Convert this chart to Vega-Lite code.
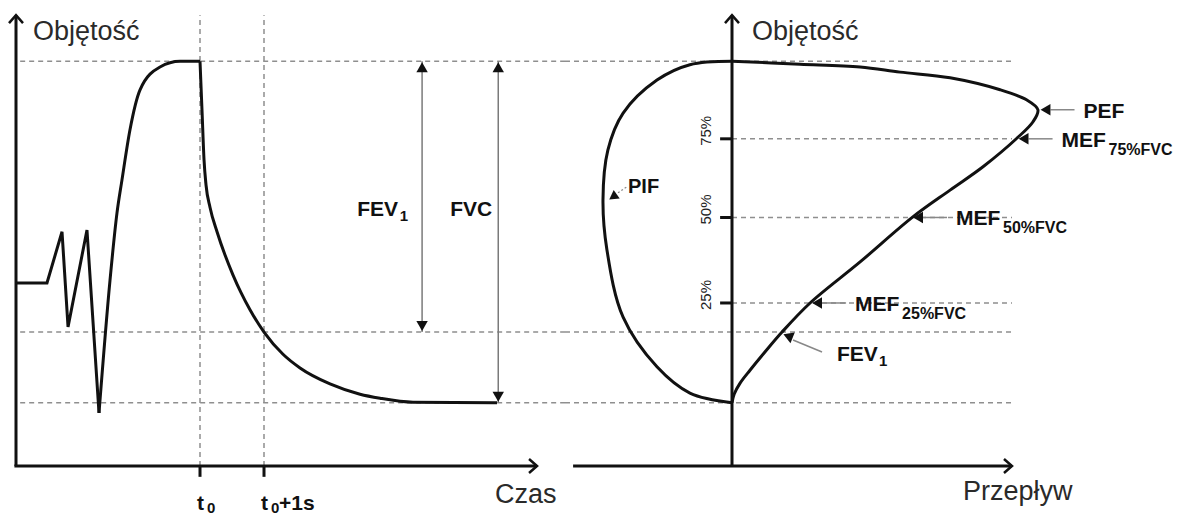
{
  "$schema": "https://vega.github.io/schema/vega-lite/v6.json",
  "padding": 0,
  "spacing": 0,
  "bounds": "flush",
  "background": "white",
  "config": {"view": {"stroke": null}, "axis": {"disable": true}, "text": {"font": "Liberation Sans"}},
  "datasets": {
    "levels": [{"level": "TLC", "V": 7.1}, {"level": "FEV1", "V": 2.35}, {"level": "RV", "V": 1.11}],
    "times": [{"t": 3.0, "main": "t", "sub": "0", "tail": ""}, {"t": 4.0, "main": "t", "sub": "0", "tail": "+1s"}],
    "spiro": [
      {"seg": "rest", "t": 0.125, "V": 3.21},
      {"seg": "rest", "t": 0.609, "V": 3.21},
      {"seg": "rest", "t": 0.844, "V": 4.11},
      {"seg": "rest", "t": 0.938, "V": 2.44},
      {"seg": "rest", "t": 1.234, "V": 4.14},
      {"seg": "rest", "t": 1.422, "V": 0.93},
      {"seg": "insp", "t": 1.422, "V": 0.93},
      {"seg": "insp", "t": 1.594, "V": 3.26},
      {"seg": "insp", "t": 1.703, "V": 4.44},
      {"seg": "insp", "t": 1.781, "V": 5.02},
      {"seg": "insp", "t": 1.906, "V": 5.9},
      {"seg": "insp", "t": 2.063, "V": 6.6},
      {"seg": "insp", "t": 2.375, "V": 7.0},
      {"seg": "insp", "t": 2.688, "V": 7.1},
      {"seg": "insp", "t": 3.0, "V": 7.1},
      {"seg": "exp", "t": 3.0, "V": 7.1},
      {"seg": "exp", "t": 3.031, "V": 6.25},
      {"seg": "exp", "t": 3.063, "V": 5.37},
      {"seg": "exp", "t": 3.094, "V": 4.93},
      {"seg": "exp", "t": 3.156, "V": 4.54},
      {"seg": "exp", "t": 3.266, "V": 4.11},
      {"seg": "exp", "t": 3.391, "V": 3.7},
      {"seg": "exp", "t": 3.516, "V": 3.35},
      {"seg": "exp", "t": 3.641, "V": 3.04},
      {"seg": "exp", "t": 3.781, "V": 2.74},
      {"seg": "exp", "t": 4.0, "V": 2.35},
      {"seg": "exp", "t": 4.297, "V": 1.96},
      {"seg": "exp", "t": 4.563, "V": 1.72},
      {"seg": "exp", "t": 5.031, "V": 1.44},
      {"seg": "exp", "t": 5.5, "V": 1.26},
      {"seg": "exp", "t": 5.813, "V": 1.19},
      {"seg": "exp", "t": 6.328, "V": 1.12},
      {"seg": "exp", "t": 7.641, "V": 1.11}
    ],
    "volArrows": [{"name": "FEV", "sub": "1", "t": 6.47, "top": 7.1, "bottom": 2.35}, {"name": "FVC", "sub": "", "t": 7.66, "top": 7.1, "bottom": 1.11}],
    "pct": [{"pct": "75%", "V": 5.74}, {"pct": "50%", "V": 4.36}, {"pct": "25%", "V": 2.86}],
    "loop": [
      {"phase": "exp", "i": 0, "F": 0, "V": 7.1},
      {"phase": "exp", "i": 1, "F": 2.23, "V": 7.05},
      {"phase": "exp", "i": 2, "F": 4.2, "V": 7.0},
      {"phase": "exp", "i": 3, "F": 5.51, "V": 6.91},
      {"phase": "exp", "i": 4, "F": 7.15, "V": 6.81},
      {"phase": "exp", "i": 5, "F": 8.79, "V": 6.6},
      {"phase": "exp", "i": 6, "F": 9.67, "V": 6.42},
      {"phase": "exp", "i": 7, "F": 10.03, "V": 6.25},
      {"phase": "exp", "i": 8, "F": 9.87, "V": 6.04},
      {"phase": "exp", "i": 9, "F": 9.34, "V": 5.75},
      {"phase": "exp", "i": 10, "F": 8.23, "V": 5.25},
      {"phase": "exp", "i": 11, "F": 7.15, "V": 4.84},
      {"phase": "exp", "i": 12, "F": 5.93, "V": 4.37},
      {"phase": "exp", "i": 13, "F": 4.2, "V": 3.58},
      {"phase": "exp", "i": 14, "F": 2.56, "V": 2.86},
      {"phase": "exp", "i": 15, "F": 1.64, "V": 2.35},
      {"phase": "exp", "i": 16, "F": 1.08, "V": 2.0},
      {"phase": "exp", "i": 17, "F": 0.59, "V": 1.68},
      {"phase": "exp", "i": 18, "F": 0.26, "V": 1.45},
      {"phase": "exp", "i": 19, "F": 0.07, "V": 1.26},
      {"phase": "exp", "i": 20, "F": 0, "V": 1.11},
      {"phase": "insp", "i": 0, "F": 0, "V": 1.11},
      {"phase": "insp", "i": 1, "F": -1.38, "V": 1.28},
      {"phase": "insp", "i": 2, "F": -2.46, "V": 1.74},
      {"phase": "insp", "i": 3, "F": -3.57, "V": 2.61},
      {"phase": "insp", "i": 4, "F": -4.1, "V": 3.79},
      {"phase": "insp", "i": 5, "F": -4.23, "V": 4.67},
      {"phase": "insp", "i": 6, "F": -4.07, "V": 5.54},
      {"phase": "insp", "i": 7, "F": -3.57, "V": 6.19},
      {"phase": "insp", "i": 8, "F": -2.46, "V": 6.77},
      {"phase": "insp", "i": 9, "F": -1.38, "V": 7.04},
      {"phase": "insp", "i": 10, "F": 0, "V": 7.1}
    ],
    "markers": [
      {"name": "PEF", "sub": "", "F": 10.05, "V": 6.25},
      {"name": "MEF", "sub": "75%FVC", "F": 9.33, "V": 5.74},
      {"name": "MEF", "sub": "50%FVC", "F": 5.87, "V": 4.36},
      {"name": "MEF", "sub": "25%FVC", "F": 2.56, "V": 2.86}
    ],
    "fevPoint": [{"name": "FEV", "sub": "1", "F": 1.64, "V": 2.35}],
    "pifPoint": [{"name": "PIF", "F": -4.23, "V": 4.67}]
  },
  "hconcat": [
    {
      "width": 565,
      "height": 517,
      "layer": [
        {
          "data": {"name": "levels"},
          "mark": {"type": "rule", "color": "#8f8f8f", "strokeWidth": 1.5, "strokeDash": [5, 4]},
          "encoding": {
            "x": {"datum": 0.19, "type": "quantitative", "scale": {"domain": [-0.125, 8.703], "nice": false, "zero": false}},
            "x2": {"datum": 8.703},
            "y": {"field": "V", "type": "quantitative", "scale": {"domain": [-0.8947, 8.1754], "nice": false, "zero": false}}
          }
        },
        {
          "data": {"name": "times"},
          "mark": {"type": "rule", "color": "#8f8f8f", "strokeWidth": 1.5, "strokeDash": [5, 4]},
          "encoding": {
            "x": {"field": "t", "type": "quantitative"},
            "y": {"datum": 0, "type": "quantitative"},
            "y2": {"datum": 7.91}
          }
        },
        {
          "data": {"name": "times"},
          "mark": {"type": "rule", "color": "#111", "strokeWidth": 3},
          "encoding": {
            "x": {"field": "t", "type": "quantitative"},
            "y": {"datum": 0, "type": "quantitative"},
            "y2": {"datum": -0.19}
          }
        },
        {
          "data": {"name": "times"},
          "mark": {"type": "text", "align": "left", "baseline": "alphabetic", "dx": -3, "fontSize": 21, "fontWeight": "bold", "color": "#111"},
          "encoding": {
            "x": {"field": "t", "type": "quantitative"},
            "y": {"datum": -0.77, "type": "quantitative"},
            "text": {"field": "main"}
          }
        },
        {
          "data": {"name": "times"},
          "mark": {"type": "text", "align": "left", "baseline": "alphabetic", "dx": 7, "dy": 3, "fontSize": 15, "fontWeight": "bold", "color": "#111"},
          "encoding": {
            "x": {"field": "t", "type": "quantitative"},
            "y": {"datum": -0.77, "type": "quantitative"},
            "text": {"field": "sub"}
          }
        },
        {
          "data": {"name": "times"},
          "mark": {"type": "text", "align": "left", "baseline": "alphabetic", "dx": 15, "fontSize": 21, "fontWeight": "bold", "color": "#111"},
          "encoding": {
            "x": {"field": "t", "type": "quantitative"},
            "y": {"datum": -0.77, "type": "quantitative"},
            "text": {"field": "tail"}
          }
        },
        {
          "data": {"values": [{}]},
          "mark": {"type": "rule", "color": "#111", "strokeWidth": 3},
          "encoding": {
            "x": {"datum": 0.125, "type": "quantitative"},
            "y": {"datum": 0, "type": "quantitative"},
            "y2": {"datum": 7.91}
          }
        },
        {
          "data": {"values": [{}]},
          "mark": {"type": "rule", "color": "#111", "strokeWidth": 3},
          "encoding": {
            "x": {"datum": 0.1, "type": "quantitative"},
            "x2": {"datum": 8.266},
            "y": {"datum": 0, "type": "quantitative"}
          }
        },
        {
          "data": {"values": [{}]},
          "mark": {"type": "point", "shape": "M-0.875,1L0,0L0.875,1", "size": 256, "filled": false, "color": "#111", "strokeWidth": 2.5, "opacity": 1},
          "encoding": {
            "x": {"datum": 0.125, "type": "quantitative"},
            "y": {"datum": 7.91, "type": "quantitative"}
          }
        },
        {
          "data": {"values": [{}]},
          "mark": {"type": "point", "shape": "M-1,-0.875L0,0L-1,0.875", "size": 256, "filled": false, "color": "#111", "strokeWidth": 2.5, "opacity": 1},
          "encoding": {
            "x": {"datum": 8.266, "type": "quantitative"},
            "y": {"datum": 0, "type": "quantitative"}
          }
        },
        {
          "data": {"name": "spiro"},
          "transform": [{"filter": "datum.seg === 'rest'"}],
          "mark": {"type": "line", "color": "#111", "strokeWidth": 3, "interpolate": "linear", "strokeJoin": "miter"},
          "encoding": {
            "x": {"field": "t", "type": "quantitative"},
            "y": {"field": "V", "type": "quantitative"}
          }
        },
        {
          "data": {"name": "spiro"},
          "transform": [{"filter": "datum.seg !== 'rest'"}],
          "mark": {"type": "line", "color": "#111", "strokeWidth": 3, "interpolate": "monotone"},
          "encoding": {
            "x": {"field": "t", "type": "quantitative"},
            "y": {"field": "V", "type": "quantitative"},
            "detail": {"field": "seg"}
          }
        },
        {
          "data": {"name": "volArrows"},
          "mark": {"type": "rule", "color": "#7a7a7a", "strokeWidth": 1.5},
          "encoding": {
            "x": {"field": "t", "type": "quantitative"},
            "y": {"field": "bottom", "type": "quantitative"},
            "y2": {"field": "top"}
          }
        },
        {
          "data": {"name": "volArrows"},
          "mark": {"type": "point", "shape": "triangle-up", "size": 130, "filled": true, "color": "#111", "opacity": 1, "yOffset": 6},
          "encoding": {
            "x": {"field": "t", "type": "quantitative"},
            "y": {"field": "top", "type": "quantitative"}
          }
        },
        {
          "data": {"name": "volArrows"},
          "mark": {"type": "point", "shape": "triangle-down", "size": 130, "filled": true, "color": "#111", "opacity": 1, "yOffset": -6},
          "encoding": {
            "x": {"field": "t", "type": "quantitative"},
            "y": {"field": "bottom", "type": "quantitative"}
          }
        },
        {
          "data": {"name": "volArrows"},
          "transform": [{"filter": "datum.sub !== ''"}],
          "mark": {"type": "text", "align": "right", "baseline": "middle", "dx": -24, "fontSize": 21, "fontWeight": "bold", "color": "#111"},
          "encoding": {
            "x": {"field": "t", "type": "quantitative"},
            "y": {"datum": 4.49, "type": "quantitative"},
            "text": {"field": "name"}
          }
        },
        {
          "data": {"name": "volArrows"},
          "transform": [{"filter": "datum.sub !== ''"}],
          "mark": {"type": "text", "align": "right", "baseline": "middle", "dx": -14, "dy": 6, "fontSize": 15, "fontWeight": "bold", "color": "#111"},
          "encoding": {
            "x": {"field": "t", "type": "quantitative"},
            "y": {"datum": 4.49, "type": "quantitative"},
            "text": {"field": "sub"}
          }
        },
        {
          "data": {"name": "volArrows"},
          "transform": [{"filter": "datum.sub === ''"}],
          "mark": {"type": "text", "align": "right", "baseline": "middle", "dx": -6, "fontSize": 21, "fontWeight": "bold", "color": "#111"},
          "encoding": {
            "x": {"field": "t", "type": "quantitative"},
            "y": {"datum": 4.49, "type": "quantitative"},
            "text": {"field": "name"}
          }
        },
        {
          "data": {"values": [{}]},
          "mark": {"type": "text", "text": "Objętość", "align": "left", "baseline": "alphabetic", "fontSize": 27, "color": "#2a2a2a"},
          "encoding": {
            "x": {"datum": 0.39, "type": "quantitative"},
            "y": {"datum": 7.47, "type": "quantitative"}
          }
        },
        {
          "data": {"values": [{}]},
          "mark": {"type": "text", "text": "Czas", "align": "left", "baseline": "alphabetic", "fontSize": 27, "color": "#2a2a2a"},
          "encoding": {
            "x": {"datum": 7.61, "type": "quantitative"},
            "y": {"datum": -0.65, "type": "quantitative"}
          }
        }
      ]
    },
    {
      "width": 625,
      "height": 517,
      "layer": [
        {
          "data": {"name": "levels"},
          "mark": {"type": "rule", "color": "#8f8f8f", "strokeWidth": 1.5, "strokeDash": [5, 4]},
          "encoding": {
            "x": {"datum": -5.4754, "type": "quantitative", "scale": {"domain": [-5.4754, 15.0164], "nice": false, "zero": false}},
            "x2": {"datum": 9.18},
            "y": {"field": "V", "type": "quantitative", "scale": {"domain": [-0.8947, 8.1754], "nice": false, "zero": false}}
          }
        },
        {
          "data": {"name": "pct"},
          "mark": {"type": "rule", "color": "#8f8f8f", "strokeWidth": 1.5, "strokeDash": [5, 4]},
          "encoding": {
            "x": {"datum": 0, "type": "quantitative"},
            "x2": {"datum": 9.18},
            "y": {"field": "V", "type": "quantitative"}
          }
        },
        {
          "data": {"name": "pct"},
          "mark": {"type": "rule", "color": "#111", "strokeWidth": 3},
          "encoding": {
            "x": {"datum": -0.39, "type": "quantitative"},
            "x2": {"datum": 0},
            "y": {"field": "V", "type": "quantitative"}
          }
        },
        {
          "data": {"name": "pct"},
          "mark": {"type": "text", "angle": 270, "align": "center", "baseline": "bottom", "dx": 8, "dy": -18, "fontSize": 15, "color": "#222"},
          "encoding": {
            "x": {"datum": 0, "type": "quantitative"},
            "y": {"field": "V", "type": "quantitative"},
            "text": {"field": "pct"}
          }
        },
        {
          "data": {"values": [{}]},
          "mark": {"type": "rule", "color": "#111", "strokeWidth": 3},
          "encoding": {
            "x": {"datum": 0, "type": "quantitative"},
            "y": {"datum": 0, "type": "quantitative"},
            "y2": {"datum": 7.91}
          }
        },
        {
          "data": {"values": [{}]},
          "mark": {"type": "rule", "color": "#111", "strokeWidth": 3},
          "encoding": {
            "x": {"datum": -5.21, "type": "quantitative"},
            "x2": {"datum": 9.18},
            "y": {"datum": 0, "type": "quantitative"}
          }
        },
        {
          "data": {"values": [{}]},
          "mark": {"type": "point", "shape": "M-0.875,1L0,0L0.875,1", "size": 256, "filled": false, "color": "#111", "strokeWidth": 2.5, "opacity": 1},
          "encoding": {
            "x": {"datum": 0, "type": "quantitative"},
            "y": {"datum": 7.91, "type": "quantitative"}
          }
        },
        {
          "data": {"values": [{}]},
          "mark": {"type": "point", "shape": "M-1,-0.875L0,0L-1,0.875", "size": 256, "filled": false, "color": "#111", "strokeWidth": 2.5, "opacity": 1},
          "encoding": {
            "x": {"datum": 9.18, "type": "quantitative"},
            "y": {"datum": 0, "type": "quantitative"}
          }
        },
        {
          "data": {"name": "loop"},
          "mark": {"type": "line", "color": "#111", "strokeWidth": 3, "interpolate": "catmull-rom"},
          "encoding": {
            "x": {"field": "F", "type": "quantitative"},
            "y": {"field": "V", "type": "quantitative"},
            "order": {"field": "i", "type": "quantitative"},
            "detail": {"field": "phase"}
          }
        },
        {
          "data": {"name": "markers"},
          "mark": {"type": "rule", "color": "#888", "strokeWidth": 1.5, "xOffset": 12, "x2Offset": 36},
          "encoding": {
            "x": {"field": "F", "type": "quantitative"},
            "x2": {"field": "F"},
            "y": {"field": "V", "type": "quantitative"}
          }
        },
        {
          "data": {"name": "markers"},
          "mark": {"type": "point", "shape": "triangle-left", "size": 130, "filled": true, "color": "#111", "opacity": 1, "xOffset": 7},
          "encoding": {
            "x": {"field": "F", "type": "quantitative"},
            "y": {"field": "V", "type": "quantitative"}
          }
        },
        {
          "data": {"name": "markers"},
          "mark": {"type": "text", "align": "left", "baseline": "middle", "dx": 45, "dy": 2, "fontSize": 21, "fontWeight": "bold", "color": "#111"},
          "encoding": {
            "x": {"field": "F", "type": "quantitative"},
            "y": {"field": "V", "type": "quantitative"},
            "text": {"field": "name"}
          }
        },
        {
          "data": {"name": "markers"},
          "mark": {"type": "text", "align": "left", "baseline": "middle", "dx": 92, "dy": 11, "fontSize": 16, "fontWeight": "bold", "color": "#111"},
          "encoding": {
            "x": {"field": "F", "type": "quantitative"},
            "y": {"field": "V", "type": "quantitative"},
            "text": {"field": "sub"}
          }
        },
        {
          "data": {"name": "fevPoint"},
          "mark": {"type": "rule", "color": "#888", "strokeWidth": 1.5, "xOffset": 11, "yOffset": 8, "x2Offset": 40, "y2Offset": 20},
          "encoding": {
            "x": {"field": "F", "type": "quantitative"},
            "x2": {"field": "F"},
            "y": {"field": "V", "type": "quantitative"},
            "y2": {"field": "V"}
          }
        },
        {
          "data": {"name": "fevPoint"},
          "mark": {"type": "point", "shape": "triangle-left", "size": 130, "filled": true, "color": "#111", "opacity": 1, "angle": 22, "xOffset": 6, "yOffset": 4},
          "encoding": {
            "x": {"field": "F", "type": "quantitative"},
            "y": {"field": "V", "type": "quantitative"}
          }
        },
        {
          "data": {"name": "fevPoint"},
          "mark": {"type": "text", "align": "left", "baseline": "middle", "dx": 55, "dy": 23, "fontSize": 21, "fontWeight": "bold", "color": "#111"},
          "encoding": {
            "x": {"field": "F", "type": "quantitative"},
            "y": {"field": "V", "type": "quantitative"},
            "text": {"field": "name"}
          }
        },
        {
          "data": {"name": "fevPoint"},
          "mark": {"type": "text", "align": "left", "baseline": "middle", "dx": 97, "dy": 29, "fontSize": 15, "fontWeight": "bold", "color": "#111"},
          "encoding": {
            "x": {"field": "F", "type": "quantitative"},
            "y": {"field": "V", "type": "quantitative"},
            "text": {"field": "sub"}
          }
        },
        {
          "data": {"name": "pifPoint"},
          "mark": {"type": "rule", "color": "#888", "strokeWidth": 1.2, "strokeDash": [2, 2], "xOffset": 15, "yOffset": -7, "x2Offset": 24, "y2Offset": -13},
          "encoding": {
            "x": {"field": "F", "type": "quantitative"},
            "x2": {"field": "F"},
            "y": {"field": "V", "type": "quantitative"},
            "y2": {"field": "V"}
          }
        },
        {
          "data": {"name": "pifPoint"},
          "mark": {"type": "point", "shape": "triangle-left", "size": 110, "filled": true, "color": "#111", "opacity": 1, "angle": 325, "xOffset": 10, "yOffset": -3},
          "encoding": {
            "x": {"field": "F", "type": "quantitative"},
            "y": {"field": "V", "type": "quantitative"}
          }
        },
        {
          "data": {"name": "pifPoint"},
          "mark": {"type": "text", "align": "left", "baseline": "middle", "dx": 25, "dy": -13, "fontSize": 20, "fontWeight": "bold", "color": "#111"},
          "encoding": {
            "x": {"field": "F", "type": "quantitative"},
            "y": {"field": "V", "type": "quantitative"},
            "text": {"field": "name"}
          }
        },
        {
          "data": {"values": [{}]},
          "mark": {"type": "text", "text": "Objętość", "align": "left", "baseline": "alphabetic", "fontSize": 27, "color": "#2a2a2a"},
          "encoding": {
            "x": {"datum": 0.656, "type": "quantitative"},
            "y": {"datum": 7.47, "type": "quantitative"}
          }
        },
        {
          "data": {"values": [{}]},
          "mark": {"type": "text", "text": "Przepływ", "align": "left", "baseline": "alphabetic", "fontSize": 27, "color": "#2a2a2a"},
          "encoding": {
            "x": {"datum": 7.574, "type": "quantitative"},
            "y": {"datum": -0.6, "type": "quantitative"}
          }
        }
      ]
    }
  ]
}
